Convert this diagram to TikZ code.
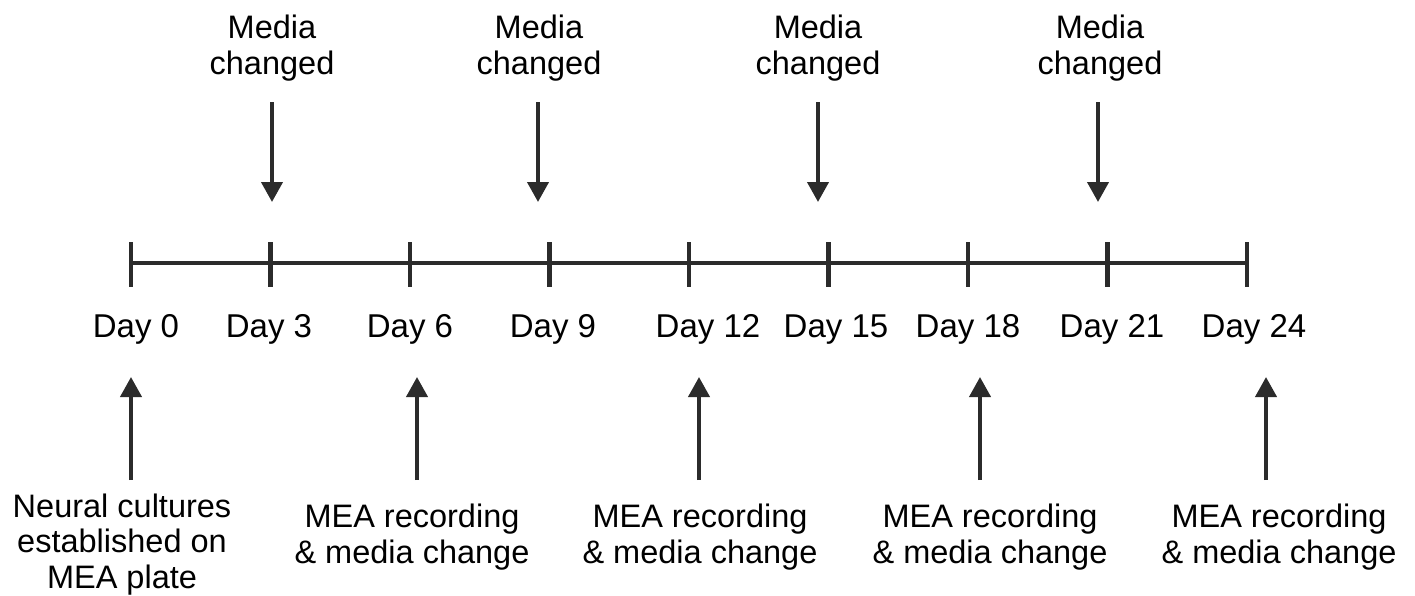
\documentclass[tikz,border=0pt]{standalone}
\usepackage{fontspec}
\setmainfont{Liberation Sans}
\usetikzlibrary{arrows.meta}
\definecolor{linegray}{HTML}{2B2B2B}
\tikzset{
  axis/.style={draw=linegray, line width=4pt},
  tickmark/.style={draw=linegray, line width=4.5pt},
  evarrow/.style={draw=linegray, line width=4pt, -{Triangle[width=21pt,length=20pt]}},
  daylabel/.style={anchor=base, inner sep=0pt, font=\fontsize{33}{36}\selectfont},
  note/.style={anchor=base, inner sep=0pt, align=center, font=\fontsize{32.5}{35.5}\selectfont}
}
\begin{document}
\begin{tikzpicture}[x=1pt, y=-1pt]
\useasboundingbox (0,0) rectangle (1415,595);
% timeline ticks
\foreach \i/\x in {0/131,1/270.5,2/410,3/549.5,4/689,5/828.5,6/968,7/1107.5,8/1247}{
  \coordinate (t\i) at (\x,263);
  \coordinate (tt\i) at (\x,242);
  \coordinate (tb\i) at (\x,287);
  \draw[tickmark] (tt\i) -- (tb\i);
}
\draw[axis] (t0) -- (t8);
% day labels
\foreach \i/\x/\d in {0/136/0,1/269/3,2/410/6,3/553/9,4/708/12,5/836/15,6/968/18,7/1112/21,8/1254/24}{
  \node[daylabel] (d\i) at (\x,337) {Day \d};
}
% top notes and arrows
\foreach \i/\x/\ax in {1/272/272,2/539/538,3/818/818,4/1100/1098}{
  \node[note] (m\i) at (\x,74) {Media\\changed};
  \coordinate (ms\i) at (\ax,102);
  \coordinate (me\i) at (\ax,202);
  \draw[evarrow] (ms\i) -- (me\i);
}
% bottom notes and arrows
\node[note] (n0) at (122,588) {Neural cultures\\established on\\MEA plate};
\foreach \i/\x in {1/412,2/700,3/990,4/1279}{
  \node[note] (n\i) at (\x,563) {MEA recording\\\& media change};
}
\foreach \i/\ax in {0/131,1/417,2/699,3/980,4/1266}{
  \coordinate (us\i) at (\ax,480);
  \coordinate (ue\i) at (\ax,377);
  \draw[evarrow] (us\i) -- (ue\i);
}
\end{tikzpicture}
\end{document}
